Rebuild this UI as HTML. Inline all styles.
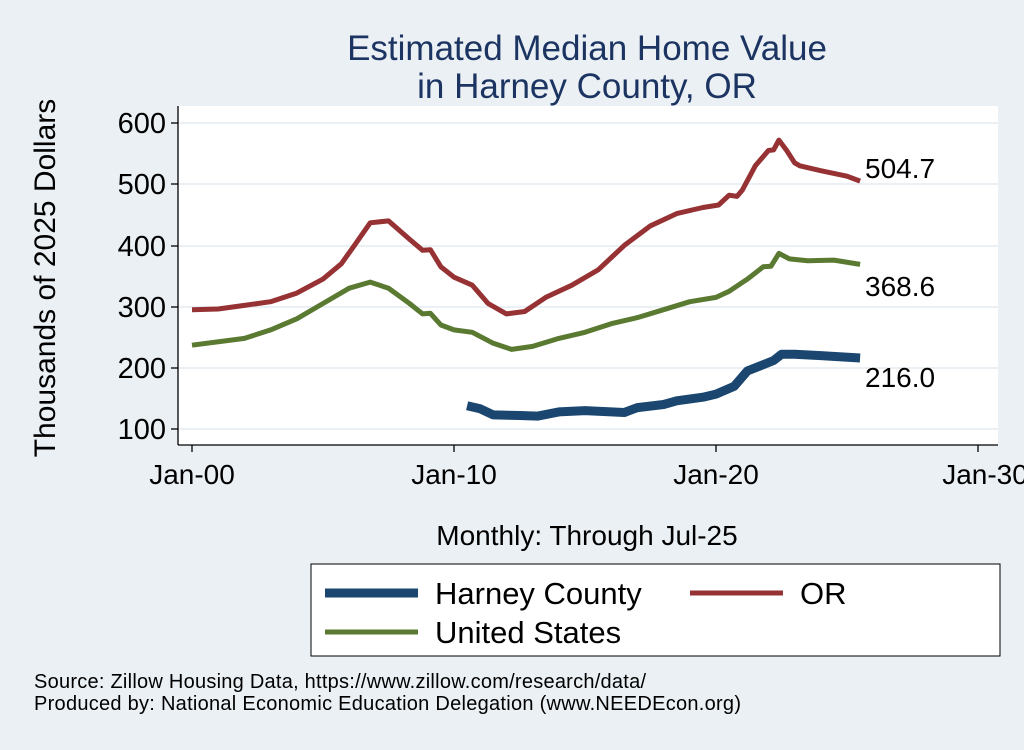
<!DOCTYPE html>
<html><head><meta charset="utf-8"><style>
body{margin:0;width:1024px;height:745px;background:#eaf0f4;overflow:hidden;font-family:"Liberation Sans",sans-serif}
</style></head><body>
<svg id="s" width="1024" height="745" xmlns="http://www.w3.org/2000/svg" font-family="Liberation Sans, sans-serif">
<rect x="178" y="106" width="820" height="339" fill="#fff"/>
<g stroke="#eaf0f4" stroke-width="2">
<line x1="178" x2="998" y1="123" y2="123"/><line x1="178" x2="998" y1="184" y2="184"/>
<line x1="178" x2="998" y1="246" y2="246"/><line x1="178" x2="998" y1="307" y2="307"/>
<line x1="178" x2="998" y1="368" y2="368"/><line x1="178" x2="998" y1="429" y2="429"/>
</g>
<g stroke="#000" stroke-width="1.3">
<line x1="178" x2="178" y1="106" y2="445"/><line x1="178" x2="998" y1="445" y2="445"/>
<line x1="171" x2="178" y1="123" y2="123"/><line x1="171" x2="178" y1="184" y2="184"/>
<line x1="171" x2="178" y1="246" y2="246"/><line x1="171" x2="178" y1="307" y2="307"/>
<line x1="171" x2="178" y1="368" y2="368"/><line x1="171" x2="178" y1="429" y2="429"/>
<line x1="192" x2="192" y1="445" y2="452"/><line x1="454" x2="454" y1="445" y2="452"/>
<line x1="716" x2="716" y1="445" y2="452"/><line x1="978" x2="978" y1="445" y2="452"/>
</g>
<g font-size="29" text-anchor="end">
<text x="166" y="133">600</text><text x="166" y="194">500</text><text x="166" y="256">400</text>
<text x="166" y="317">300</text><text x="166" y="378">200</text><text x="166" y="439">100</text>
</g>
<g font-size="28" text-anchor="middle">
<text x="192" y="484">Jan-00</text><text x="454" y="484">Jan-10</text><text x="716" y="484">Jan-20</text><text x="985" y="484">Jan-30</text>
</g>
<text transform="translate(55,278) rotate(-90)" font-size="30" text-anchor="middle">Thousands of 2025 Dollars</text>
<text x="587" y="60" font-size="35" fill="#1c3461" text-anchor="middle">Estimated Median Home Value</text>
<text x="587" y="98" font-size="35" fill="#1c3461" text-anchor="middle">in Harney County, OR</text>
<text x="587" y="545" font-size="28" text-anchor="middle">Monthly: Through Jul-25</text>
<g font-size="28"><text x="865" y="178">504.7</text><text x="865" y="296">368.6</text><text x="865" y="387">216.0</text></g>
<g id="lines"></g>
<rect x="311" y="564" width="689" height="92" fill="#fff" stroke="#000" stroke-width="1"/>
<line x1="325" x2="418" y1="593" y2="593" stroke="#1a4670" stroke-width="9"/>
<text x="435" y="604" font-size="31">Harney County</text>
<line x1="690" x2="783" y1="593" y2="593" stroke="#963234" stroke-width="5"/>
<text x="800" y="604" font-size="31">OR</text>
<line x1="325" x2="418" y1="632" y2="632" stroke="#5a7a32" stroke-width="5"/>
<text x="435" y="643" font-size="31">United States</text>
<text x="34" y="688" font-size="20" textLength="612">Source: Zillow Housing Data, https://www.zillow.com/research/data/</text>
<text x="34" y="710" font-size="20" textLength="707">Produced by: National Economic Education Delegation (www.NEEDEcon.org)</text>
</svg>
<script>
function P(d){return d.map(function(p){return (192+26.2*(p[0]-2000)).toFixed(1)+","+(429-(p[1]-100)*0.612).toFixed(1)}).join(" ")}
var OR=[[2000,295],[2001,296],[2002,302],[2003,308],[2004,322],[2005,345],[2005.7,370],[2006.2,400],[2006.8,437],[2007.5,440],[2008.3,410],[2008.8,392],[2009.1,393],[2009.5,365],[2010,348],[2010.7,335],[2011.3,305],[2012,288],[2012.7,292],[2013.5,315],[2014.5,335],[2015.5,360],[2016.5,400],[2017.5,432],[2018.5,452],[2019.5,462],[2020.1,466],[2020.5,482],[2020.8,480],[2021,490],[2021.5,530],[2022,555],[2022.2,556],[2022.4,572],[2022.7,555],[2023,535],[2023.2,530],[2024,522],[2025,513],[2025.5,505]];
var US=[[2000,237],[2002,248],[2003,262],[2004,280],[2005,305],[2006,330],[2006.8,340],[2007.5,330],[2008.3,305],[2008.8,288],[2009.1,289],[2009.5,270],[2010,262],[2010.7,258],[2011.5,240],[2012.2,230],[2013,235],[2014,248],[2015,258],[2016,272],[2017,282],[2018,295],[2019,308],[2020,315],[2020.5,325],[2021.2,345],[2021.8,365],[2022.1,366],[2022.4,387],[2022.8,378],[2023.5,375],[2024.5,376],[2025.5,369]];
var HC=[[2010.5,138],[2011,133],[2011.5,123],[2012.5,122],[2013.2,121],[2014,128],[2015,130],[2016,128],[2016.5,127],[2017,135],[2018,140],[2018.5,146],[2019.5,152],[2020,157],[2020.7,170],[2021.2,195],[2021.8,205],[2022.2,212],[2022.5,222],[2023,222],[2024,220],[2025.5,216]];
var g=document.getElementById("lines");
g.innerHTML='<polyline fill="none" stroke="#963234" stroke-width="5" stroke-linejoin="round" points="'+P(OR)+'"/>'+
'<polyline fill="none" stroke="#5a7a32" stroke-width="5" stroke-linejoin="round" points="'+P(US)+'"/>'+
'<polyline fill="none" stroke="#1a4670" stroke-width="9" stroke-linejoin="round" points="'+P(HC)+'"/>';
</script>
</body></html>
